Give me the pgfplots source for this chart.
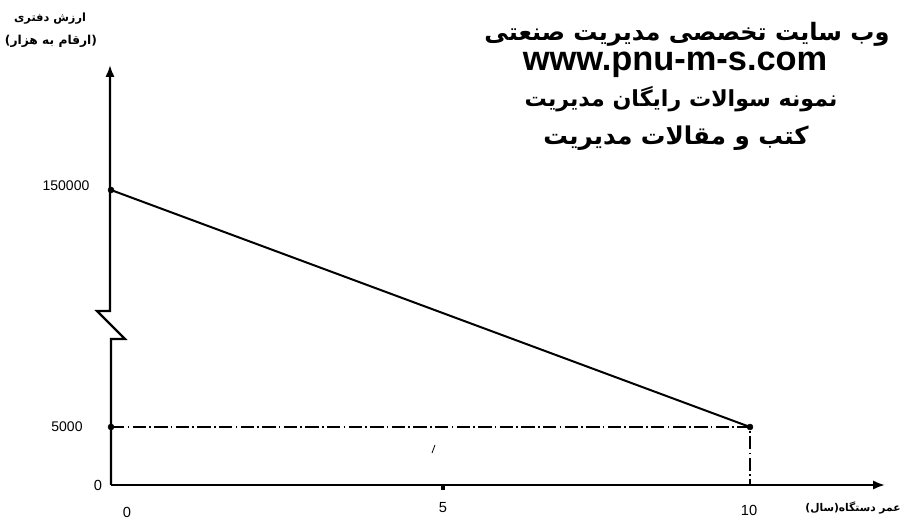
\documentclass[border=0pt]{standalone}
\usepackage{pgfplots}
\pgfplotsset{compat=1.18}
\usetikzlibrary{arrows.meta}
\usepackage{fontspec}
\setmainfont{Liberation Sans}
\newfontfamily\fa[Script=Arabic]{DejaVu Sans}
\TeXXeTstate=1

\begin{document}
\begin{tikzpicture}[x=0.75pt,y=0.75pt]
\useasboundingbox (0,0) rectangle (919,523);

% book value against service life; the value axis is broken between 5000 and 150000
\begin{axis}[
  at={(83.25pt,28.5pt)}, anchor=south west,
  x=47.925pt, y=0.75pt,
  xmin=0, xmax=10, ymin=0, ymax=150000,
  hide axis, clip=false,
  y coord trafo/.code={%
    \begingroup
    \pgfkeys{/pgf/fpu=true,/pgf/fpu/output format=fixed}%
    \pgfmathparse{#1<=5000 ? #1*58/5000 : 58+(#1-5000)*237/145000}%
    \xdef\brokentrafo{\pgfmathresult}%
    \endgroup
    \let\pgfmathresult\brokentrafo
  },
]
\addplot[black, line width=1.5pt] coordinates {(0,150000) (10,5000)};
\addplot[black, line width=1.1pt, dash pattern=on 10pt off 2.5pt on 1.2pt off 2.5pt]
  coordinates {(0,5000) (10,5000) (10,0)};
\addplot[only marks, mark=*, mark size=2.2pt, black]
  coordinates {(0,150000) (10,5000) (0,5000)};
\end{axis}

% axes with arrows and the break mark
\draw[line width=1.7pt, -{Latex[length=9pt,width=7pt]}]
  (111,38) -- (111,184) -- (125,184) -- (97,212) -- (110,212) -- (110,458);
\draw[line width=1.7pt, -{Latex[length=9pt,width=7pt]}] (111,38) -- (885,38);
\draw[line width=3pt] (443,38) -- (443,33);
\draw[line width=0.6pt] (432,70) -- (435,78);

% tick labels
\node[font=\fontsize{10.5}{12}\selectfont] at (66,337) {150000};
\node[font=\fontsize{10.5}{12}\selectfont] at (67,96) {5000};
\node[font=\fontsize{11}{12}\selectfont] at (98,38) {0};
\node[font=\fontsize{11}{12}\selectfont] at (127,11) {0};
\node[font=\fontsize{11}{12}\selectfont] at (443,15) {5};
\node[font=\fontsize{11}{12}\selectfont] at (749,13) {10};

% axis titles
\node[font=\fa\bfseries\fontsize{8.5}{9}\selectfont] at (50,504) {\beginR ارزش دفتری\endR};
\node[font=\fa\bfseries\fontsize{9.2}{10}\selectfont] at (51,482) {\beginR (ارقام به هزار)\endR};
\node[font=\fa\bfseries\fontsize{8}{9}\selectfont] at (853,15) {\beginR عمر دستگاه(سال)\endR};

% header
\node[font=\fa\bfseries\fontsize{18}{20}\selectfont] at (687,489) {\beginR وب سایت تخصصی مدیریت صنعتی\endR};
\node[font=\bfseries\fontsize{25.8}{28}\selectfont] at (675,458) {www.pnu-m-s.com};
\node[font=\fa\bfseries\fontsize{16.6}{19}\selectfont] at (681,424) {\beginR نمونه سوالات رایگان مدیریت\endR};
\node[font=\fa\bfseries\fontsize{18.4}{21}\selectfont] at (676,385) {\beginR کتب و مقالات مدیریت\endR};
\end{tikzpicture}
\end{document}
